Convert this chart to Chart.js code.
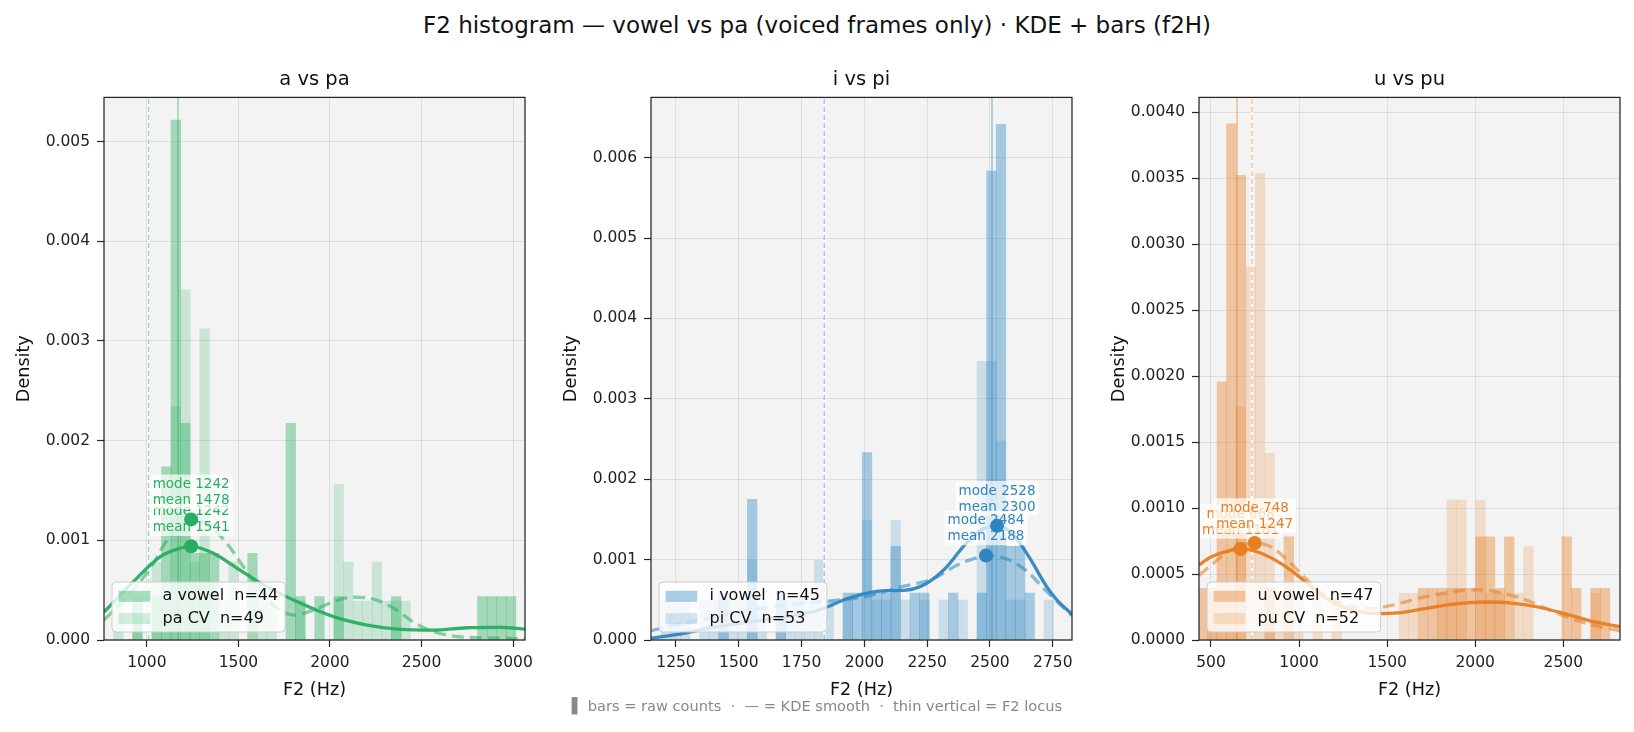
<!DOCTYPE html>
<html><head><meta charset="utf-8">
<script src="https://cdn.jsdelivr.net/npm/chart.js@4/dist/chart.umd.min.js"></script>
<style>
html,body{margin:0;padding:0;background:#fff;width:1634px;height:732px;overflow:hidden;font-family:"DejaVu Sans",sans-serif}
#sup{position:absolute;left:0;width:1634px;top:11px;text-align:center;font-size:23px;color:#111;line-height:28px;white-space:pre}
#foot{position:absolute;left:0;width:1634px;top:697px;text-align:center;font-size:14.6px;color:#888;line-height:18px;white-space:pre}
canvas{position:absolute;top:60px}
</style></head><body>
<div id="sup">F2 histogram — vowel vs pa (voiced frames only) · KDE + bars (f2H)</div>
<canvas id="c1" width="533" height="652" style="left:4px"></canvas>
<canvas id="c2" width="533" height="652" style="left:551px"></canvas>
<canvas id="c3" width="533" height="652" style="left:1099px"></canvas>
<div id="foot">▌ bars = raw counts  ·  — = KDE smooth  ·  thin vertical = F2 locus</div>
<script>
// ---------- Panel A: a vs pa ----------
const A_BIN_CENTERS = [792.25,844.55,896.85,949.15,1001.45,1053.75,1106.05,1158.35,1210.65,1262.95,1315.25,1367.55,1419.85,1472.15,1524.45,1576.75,1629.05,1681.35,1733.65,1785.95,1838.25,1890.55,1942.85,1995.15,2047.45,2099.75,2152.05,2204.35,2256.65,2308.95,2361.25,2413.55,2465.85,2518.15,2570.45,2622.75,2675.05,2727.35,2779.65,2831.95,2884.25,2936.55,2988.85];
const A_BIN_WIDTH = 52.3;
const A_VOWEL_COUNTS = [0,0,0,1,0,1,4,12,5,2,2,2,0,0,0,2,0,0,0,5,1,0,1,0,1,0,0,0,0,0,1,0,0,0,0,0,0,0,0,1,1,1,1];
const A_CV_COUNTS    = [0,1,0,1,0,2,1,6,9,2,8,0,1,2,0,0,1,1,0,0,1,0,0,0,4,2,1,1,2,1,1,1,0,0,0,0,0,0,0,0,0,0,0];
const A_N = [44, 49];
const A_KDE_VOWEL = [[766,0.00028],[926,0.000585],[1072,0.000835],[1181,0.00092],[1242,0.00094],[1363,0.00087],[1509,0.0007],[1655,0.000535],[1837,0.00037],[2019,0.000234],[2202,0.00015],[2384,0.000107],[2566,0.0001],[2748,0.000123],[2930,0.000127],[3065,0.00011]];
const A_KDE_CV = [[766,0.0002],[926,0.0005],[1036,0.00077],[1109,0.001],[1199,0.00117],[1242,0.00121],[1345,0.00114],[1437,0.00097],[1527,0.000735],[1619,0.0005],[1710,0.00032],[1801,0.00025],[1910,0.0003],[2019,0.000385],[2128,0.00043],[2238,0.00041],[2347,0.00032],[2456,0.00018],[2566,0.000083],[2748,0.000027],[2985,0.000017],[3065,0.00001]];
const A_MODES = [[1242,0.00094],[1242,0.00121]];
const A_MODE_TEXT = [["mode 1242","mean 1541"],["mode 1242","mean 1478"]];
const A_LOCUS = [1170, 1010];
const A_X_TICKS = [1000,1500,2000,2500,3000];
const A_Y_TICKS = [0,0.001,0.002,0.003,0.004,0.005];

// ---------- Panel B: i vs pi ----------
const B_BIN_CENTERS = [1172.25,1210.35,1248.45,1286.55,1324.65,1362.75,1400.85,1438.95,1477.05,1515.15,1553.25,1591.35,1629.45,1667.55,1705.65,1743.75,1781.85,1819.95,1858.05,1896.15,1934.25,1972.35,2010.45,2048.55,2086.65,2124.75,2162.85,2200.95,2239.05,2277.15,2315.25,2353.35,2391.45,2429.55,2467.65,2505.75,2543.85,2581.95,2620.05,2658.15,2696.25,2734.35,2772.45,2810.55];
const B_BIN_WIDTH = 38.1;
const B_VOWEL_COUNTS = [0,0,0,0,0,0,0,1,0,0,3,0,0,1,0,0,0,0,0,0,1,1,4,1,1,2,0,1,1,0,0,1,0,0,1,10,11,2,2,1,0,0,0,0];
const B_CV_COUNTS    = [0,1,1,1,0,1,1,1,1,1,2,1,0,1,1,1,1,2,1,0,1,0,3,1,1,3,1,0,1,0,1,0,1,0,7,7,5,1,1,0,0,1,0,0];
const B_N = [45, 53];
const B_KDE_VOWEL = [[1150,0.00002],[1263,0.000074],[1396,0.000156],[1529,0.000218],[1661,0.00028],[1768,0.00033],[1847,0.000405],[1927,0.00051],[2006,0.00058],[2086,0.000613],[2166,0.00062],[2245,0.0007],[2325,0.0009],[2404,0.0012],[2471,0.00138],[2528,0.00142],[2590,0.00132],[2656,0.00103],[2723,0.000676],[2763,0.00051],[2827,0.00032]];
const B_KDE_CV = [[1150,0.000115],[1263,0.000198],[1396,0.00028],[1529,0.000364],[1661,0.000426],[1794,0.000468],[1874,0.00049],[2006,0.00054],[2139,0.000655],[2272,0.00076],[2378,0.000946],[2457,0.00103],[2484,0.00105],[2564,0.00101],[2644,0.000863],[2723,0.000613],[2763,0.00049],[2827,0.0003]];
const B_MODES = [[2528,0.00142],[2484,0.00105]];
const B_MODE_TEXT = [["mode 2528","mean 2300"],["mode 2484","mean 2188"]];
const B_LOCUS = [2508, 1840];
const B_X_TICKS = [1250,1500,1750,2000,2250,2500,2750];
const B_Y_TICKS = [0,0.001,0.002,0.003,0.004,0.005,0.006];

// ---------- Panel C: u vs pu ----------
const C_BIN_CENTERS = [452.5,506.9,561.3,615.7,670.1,724.5,778.9,833.3,887.7,942.1,996.5,1050.9,1105.3,1159.7,1214.1,1268.5,1322.9,1377.3,1431.7,1486.1,1540.5,1594.9,1649.3,1703.7,1758.1,1812.5,1866.9,1921.3,1975.7,2030.1,2084.5,2138.9,2193.3,2247.7,2302.1,2356.5,2410.9,2465.3,2519.7,2574.1,2628.5,2682.9,2737.3,2791.7];
const C_BIN_WIDTH = 54.4;
const C_VOWEL_COUNTS = [1,1,5,10,9,0,0,1,0,2,0,0,0,0,0,0,0,0,0,0,0,0,0,1,1,1,1,1,1,2,2,1,2,0,0,0,0,0,2,1,0,1,1,0];
const C_CV_COUNTS    = [0,1,1,1,5,8,10,4,1,0,1,0,1,0,1,0,0,0,0,0,0,1,1,0,0,1,3,3,0,3,1,1,0,1,2,0,0,0,0,0,0,1,0,0];
const C_N = [47, 52];
const C_KDE_VOWEL = [[432,0.00057],[500,0.000629],[595,0.000674],[668,0.00069],[765,0.000667],[860,0.000609],[955,0.000528],[1049,0.000427],[1144,0.000326],[1239,0.000255],[1334,0.000217],[1447,0.0002],[1561,0.000205],[1712,0.000238],[1902,0.000276],[2053,0.000288],[2205,0.00028],[2356,0.00025],[2507,0.0002],[2648,0.000147],[2822,0.0001]];
const C_KDE_CV = [[432,0.00049],[500,0.000566],[595,0.000667],[670,0.000717],[748,0.000735],[841,0.000705],[936,0.000604],[1030,0.000477],[1144,0.000339],[1277,0.000263],[1409,0.000238],[1523,0.000263],[1712,0.000326],[1902,0.000371],[2015,0.000382],[2167,0.000352],[2318,0.000288],[2470,0.0002],[2648,0.000119],[2822,0.00007]];
const C_MODES = [[668,0.00069],[748,0.000735]];
const C_MODE_TEXT = [["mode 668","mean 1181"],["mode 748","mean 1247"]];
const C_LOCUS = [648, 733];
const C_X_TICKS = [500,1000,1500,2000,2500];
const C_Y_TICKS = [0,0.0005,0.001,0.0015,0.002,0.0025,0.003,0.0035,0.004];

const FONT = "'DejaVu Sans'";
const GRID = 'rgba(0,0,0,0.085)';

const decoPlugin = {
  id: 'deco',
  beforeDraw(chart) {
    const {ctx, chartArea: a} = chart;
    ctx.save();
    ctx.fillStyle = '#f3f3f3';
    ctx.fillRect(a.left, a.top, a.right - a.left, a.bottom - a.top);
    ctx.restore();
  },
  beforeDatasetDraw(chart, args, o) {
    if (args.index !== o.modeIndex) return;
    const ctx = chart.ctx, xs = chart.scales.x, ys = chart.scales.y;
    ctx.save();
    ctx.font = '13.5px ' + FONT;
    o.labels.forEach(lab => {
      const px = xs.getPixelForValue(lab.x), py = ys.getPixelForValue(lab.y);
      const b2 = py - 15.3, b1 = b2 - 16;
      const w = Math.max(ctx.measureText(lab.lines[0]).width, ctx.measureText(lab.lines[1]).width);
      ctx.fillStyle = 'rgba(255,255,255,0.72)';
      ctx.beginPath();
      ctx.roundRect(px - w / 2 - 3, b1 - 13.5, w + 6, (b2 + 5) - (b1 - 13.5), 3);
      ctx.fill();
      ctx.fillStyle = 'rgb(' + o.rgb + ')';
      ctx.textAlign = 'center';
      ctx.textBaseline = 'alphabetic';
      ctx.fillText(lab.lines[0], px, b1);
      ctx.fillText(lab.lines[1], px, b2);
    });
    ctx.restore();
  },
  afterDatasetsDraw(chart, args, o) {
    const ctx = chart.ctx, a = chart.chartArea;
    ctx.save();
    ctx.font = '16px ' + FONT;
    const tw = Math.max(...o.legend.map(l => ctx.measureText(l.text).width));
    const bx = a.left + 8, bh = 50, by = a.bottom - 8 - bh, bw = 50.6 + tw + 7;
    ctx.fillStyle = 'rgba(255,255,255,0.8)';
    ctx.strokeStyle = '#cccccc';
    ctx.lineWidth = 1;
    ctx.beginPath();
    ctx.roundRect(bx, by, bw, bh, 4);
    ctx.fill(); ctx.stroke();
    o.legend.forEach((l, i) => {
      const cy = by + 14.3 + i * 22.3;
      ctx.fillStyle = l.color;
      ctx.fillRect(bx + 6.6, cy - 5.5, 31.7, 11);
      ctx.fillStyle = '#111';
      ctx.textBaseline = 'middle';
      ctx.textAlign = 'left';
      ctx.fillText(l.text, bx + 50.6, cy);
    });
    ctx.restore();
  },
  afterDraw(chart) {
    const {ctx, chartArea: a} = chart;
    ctx.save();
    ctx.strokeStyle = '#262626';
    ctx.lineWidth = 1.25;
    ctx.strokeRect(a.left, a.top, a.right - a.left, a.bottom - a.top);
    ctx.restore();
  }
};

function buildPanel(id, p) {
  const rgba = al => 'rgba(' + p.rgb + ',' + al + ')';
  const dens = (counts, n) => counts.map((c, i) => ({x: p.centers[i], y: c / (n * p.binWidth)}));
  const pts = arr => arr.map(d => ({x: d[0], y: d[1]}));
  const barBase = {type: 'bar', grouped: false, barPercentage: 1, categoryPercentage: 1, borderWidth: 0};
  const datasets = [
    Object.assign({}, barBase, {label: p.vowelLabel, data: dens(p.vowelCounts, p.n[0]), backgroundColor: rgba(0.4), order: 6}),
    Object.assign({}, barBase, {label: p.cvLabel, data: dens(p.cvCounts, p.n[1]), backgroundColor: rgba(0.2), order: 5}),
    {type: 'line', data: [{x: p.locus[0], y: 0}, {x: p.locus[0], y: p.yMax}], borderColor: rgba(0.45), borderWidth: 1.5, pointRadius: 0, order: 4},
    {type: 'line', data: [{x: p.locus[1], y: 0}, {x: p.locus[1], y: p.yMax}], borderColor: 'rgba(255,255,255,0.85)', borderWidth: 2.5, pointRadius: 0, order: 4},
    {type: 'line', data: [{x: p.locus[1], y: 0}, {x: p.locus[1], y: p.yMax}], borderColor: rgba(0.45), borderWidth: 1.5, borderDash: [5, 3], pointRadius: 0, order: 3},
    {type: 'line', data: pts(p.kdeCv), borderColor: rgba(0.55), borderWidth: 3.3, borderDash: [12, 6], pointRadius: 0, cubicInterpolationMode: 'monotone', order: 2},
    {type: 'line', data: pts(p.kdeVowel), borderColor: rgba(0.95), borderWidth: 3.3, pointRadius: 0, cubicInterpolationMode: 'monotone', order: 1},
    {type: 'line', data: pts(p.modes), showLine: false, pointRadius: 7, pointBackgroundColor: rgba(1), pointBorderWidth: 0, order: 0}
  ];
  new Chart(document.getElementById(id), {
    type: 'bar',
    data: {datasets},
    plugins: [decoPlugin],
    options: {
      responsive: false, animation: false, devicePixelRatio: 1, events: [],
      layout: {padding: {left: 0, right: 12, top: 0, bottom: 0}},
      plugins: {
        legend: {display: false}, tooltip: {enabled: false},
        title: {display: true, text: p.title, fullSize: false, color: '#111', font: {family: FONT, size: 19.5, weight: 'normal'}, padding: {top: 8, bottom: 6}},
        deco: {
          rgb: p.rgb, modeIndex: 7,
          labels: [{x: p.modes[0][0], y: p.modes[0][1], lines: p.modeText[0]}, {x: p.modes[1][0], y: p.modes[1][1], lines: p.modeText[1]}],
          legend: [{text: p.vowelLabel, color: rgba(0.4)}, {text: p.cvLabel, color: rgba(0.2)}]
        }
      },
      scales: {
        x: {
          type: 'linear', min: p.xMin, max: p.xMax, offset: false,
          grid: {offset: false, color: GRID, lineWidth: 1, drawTicks: true, tickLength: 7, tickColor: '#262626', tickWidth: 1.2},
          border: {display: false},
          ticks: {font: {family: FONT, size: 15.5}, color: '#222', padding: 7, maxRotation: 0, autoSkip: false, callback: v => String(v)},
          afterBuildTicks: s => { s.ticks = p.xTicks.map(v => ({value: v})); },
          afterFit: s => { s.height = 72; s.paddingLeft = 0; s.paddingRight = 0; },
          title: {display: true, text: 'F2 (Hz)', color: '#111', font: {family: FONT, size: 17.6}, padding: {top: 0, bottom: 11.4}}
        },
        y: {
          type: 'linear', min: 0, max: p.yMax,
          grid: {color: GRID, lineWidth: 1, drawTicks: true, tickLength: 7, tickColor: '#262626', tickWidth: 1.2},
          border: {display: false},
          ticks: {font: {family: FONT, size: 15.5}, color: '#222', padding: 7, autoSkip: false, callback: v => Number(v).toFixed(p.yDec)},
          afterBuildTicks: s => { s.ticks = p.yTicks.map(v => ({value: v})); },
          afterFit: s => { s.width = 100; s.paddingTop = 0; s.paddingBottom = 0; },
          title: {display: true, text: 'Density', color: '#111', font: {family: FONT, size: 17.6}, padding: {top: 10, bottom: 0}}
        }
      }
    }
  });
}

buildPanel('c1', {title: 'a vs pa', rgb: '39,174,96', centers: A_BIN_CENTERS, binWidth: A_BIN_WIDTH,
  vowelCounts: A_VOWEL_COUNTS, cvCounts: A_CV_COUNTS, n: A_N, vowelLabel: 'a vowel  n=44', cvLabel: 'pa CV  n=49',
  kdeVowel: A_KDE_VOWEL, kdeCv: A_KDE_CV, modes: A_MODES, modeText: A_MODE_TEXT, locus: A_LOCUS,
  xMin: 766, xMax: 3065, yMax: 0.005443, xTicks: A_X_TICKS, yTicks: A_Y_TICKS, yDec: 3});
buildPanel('c2', {title: 'i vs pi', rgb: '46,134,193', centers: B_BIN_CENTERS, binWidth: B_BIN_WIDTH,
  vowelCounts: B_VOWEL_COUNTS, cvCounts: B_CV_COUNTS, n: B_N, vowelLabel: 'i vowel  n=45', cvLabel: 'pi CV  n=53',
  kdeVowel: B_KDE_VOWEL, kdeCv: B_KDE_CV, modes: B_MODES, modeText: B_MODE_TEXT, locus: B_LOCUS,
  xMin: 1150.5, xMax: 2826.5, yMax: 0.00675, xTicks: B_X_TICKS, yTicks: B_Y_TICKS, yDec: 3});
buildPanel('c3', {title: 'u vs pu', rgb: '230,126,34', centers: C_BIN_CENTERS, binWidth: C_BIN_WIDTH,
  vowelCounts: C_VOWEL_COUNTS, cvCounts: C_CV_COUNTS, n: C_N, vowelLabel: 'u vowel  n=47', cvLabel: 'pu CV  n=52',
  kdeVowel: C_KDE_VOWEL, kdeCv: C_KDE_CV, modes: C_MODES, modeText: C_MODE_TEXT, locus: C_LOCUS,
  xMin: 432, xMax: 2822, yMax: 0.004111, xTicks: C_X_TICKS, yTicks: C_Y_TICKS, yDec: 4});
</script>
</body></html>
